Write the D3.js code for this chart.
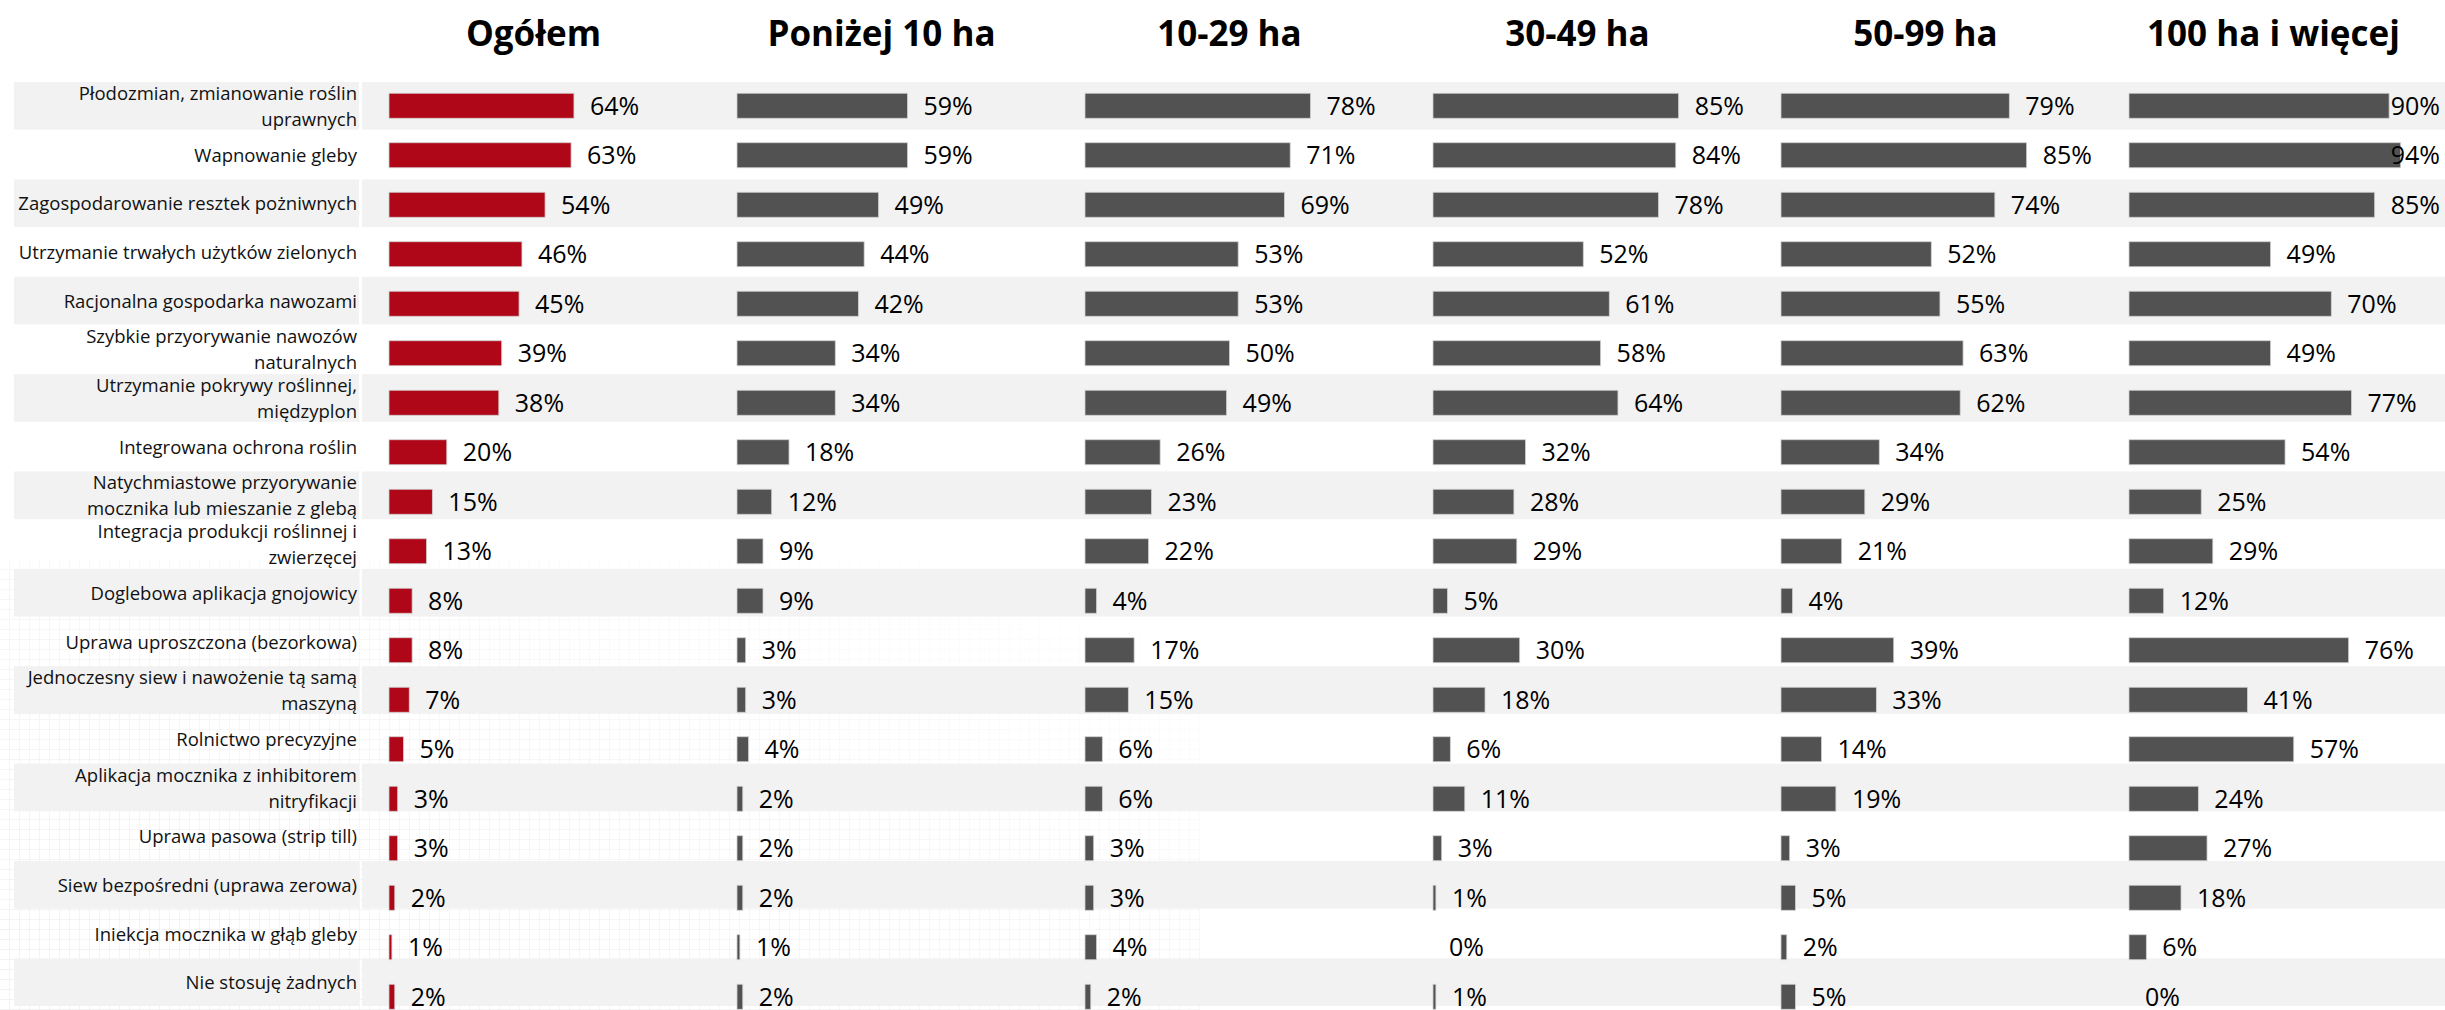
<!DOCTYPE html>
<html>
<head>
<meta charset="utf-8">
<script src="https://cdn.jsdelivr.net/npm/d3@7"></script>
<style>
  body { margin: 0; background: #fff; }
  svg { display: block; font-family: "Open Sans", sans-serif; }
</style>
</head>
<body>
<svg id="chart" width="2445" height="1010"></svg>
<script>
// row labels, line breaks as in the original table
const categories = [
  "Płodozmian, zmianowanie roślin\nuprawnych",
  "Wapnowanie gleby",
  "Zagospodarowanie resztek pożniwnych",
  "Utrzymanie trwałych użytków zielonych",
  "Racjonalna gospodarka nawozami",
  "Szybkie przyorywanie nawozów\nnaturalnych",
  "Utrzymanie pokrywy roślinnej,\nmiędzyplon",
  "Integrowana ochrona roślin",
  "Natychmiastowe przyorywanie\nmocznika lub mieszanie z glebą",
  "Integracja produkcji roślinnej i\nzwierzęcej",
  "Doglebowa aplikacja gnojowicy",
  "Uprawa uproszczona (bezorkowa)",
  "Jednoczesny siew i nawożenie tą samą\nmaszyną",
  "Rolnictwo precyzyjne",
  "Aplikacja mocznika z inhibitorem\nnitryfikacji",
  "Uprawa pasowa (strip till)",
  "Siew bezpośredni (uprawa zerowa)",
  "Iniekcja mocznika w głąb gleby",
  "Nie stosuję żadnych"
];

const groups = ["Ogółem", "Poniżej 10 ha", "10-29 ha", "30-49 ha", "50-99 ha", "100 ha i więcej"];

// percentages, one array per farm size group
const ogolem   = [64, 63, 54, 46, 45, 39, 38, 20, 15, 13, 8, 8, 7, 5, 3, 3, 2, 1, 2];
const ponizej10 = [59, 59, 49, 44, 42, 34, 34, 18, 12, 9, 9, 3, 3, 4, 2, 2, 2, 1, 2];
const ha10_29  = [78, 71, 69, 53, 53, 50, 49, 26, 23, 22, 4, 17, 15, 6, 6, 3, 3, 4, 2];
const ha30_49  = [85, 84, 78, 52, 61, 58, 64, 32, 28, 29, 5, 30, 18, 6, 11, 3, 1, 0, 1];
const ha50_99  = [79, 85, 74, 52, 55, 63, 62, 34, 29, 21, 4, 39, 33, 14, 19, 3, 5, 2, 5];
const ha100    = [90, 94, 85, 49, 70, 49, 77, 54, 25, 29, 12, 76, 41, 57, 24, 27, 18, 6, 0];

const series = [ogolem, ponizej10, ha10_29, ha30_49, ha50_99, ha100];

const W = 2445, H = 1010;
const RED = "#b00718", GREY = "#525252", BAND = "#f2f2f2";

const svg = d3.select("#chart");

// faint graph-paper texture in the lower left, like the original backdrop
const defs = svg.append("defs");
const pat = defs.append("pattern")
  .attr("id", "grid").attr("patternUnits", "userSpaceOnUse")
  .attr("width", 10).attr("height", 10);
pat.append("path").attr("d", "M10 0V10M0 10H10")
  .attr("fill", "none").attr("stroke", "#e6e6e6").attr("stroke-width", 1);
const grad = defs.append("linearGradient").attr("id", "fade")
  .attr("x1", 0).attr("y1", 1).attr("x2", 1).attr("y2", 0);
grad.append("stop").attr("offset", 0).attr("stop-color", "#fff").attr("stop-opacity", 1);
grad.append("stop").attr("offset", 0.55).attr("stop-color", "#fff").attr("stop-opacity", 0.6);
grad.append("stop").attr("offset", 1).attr("stop-color", "#fff").attr("stop-opacity", 0);
defs.append("mask").attr("id", "fadeMask")
  .append("rect").attr("x", 0).attr("y", 560).attr("width", 1200).attr("height", 450)
  .attr("fill", "url(#fade)");
svg.append("rect")
  .attr("x", 0).attr("y", 560).attr("width", 1200).attr("height", 450)
  .attr("fill", "url(#grid)").attr("mask", "url(#fadeMask)");

// table rows (label column + grey striping)
const rowY = d3.scaleBand().domain(d3.range(categories.length)).range([82, 1007]);

const bands = svg.append("g");
bands.selectAll("rect.lab")
  .data(d3.range(0, categories.length, 2))
  .join("rect")
  .attr("x", 14).attr("width", 345)
  .attr("y", i => rowY(i)).attr("height", rowY.bandwidth() - 1)
  .attr("fill", BAND);
bands.selectAll("rect.pan")
  .data(d3.range(0, categories.length, 2))
  .join("rect")
  .attr("x", 362).attr("width", W - 362)
  .attr("y", i => rowY(i)).attr("height", rowY.bandwidth() - 1)
  .attr("fill", BAND);

// category labels, right aligned
const lineH = 26;
svg.append("g")
  .selectAll("text")
  .data(categories)
  .join("text")
  .attr("text-anchor", "end")
  .attr("font-size", 18.5)
  .attr("fill", "#111")
  .each(function (d, i) {
    const lines = d.split("\n");
    const cy = rowY(i) + rowY.bandwidth() / 2;
    d3.select(this).selectAll("tspan")
      .data(lines)
      .join("tspan")
      .attr("x", 357)
      .attr("y", (l, j) => cy + (j - (lines.length - 1) / 2) * lineH)
      .attr("dy", "0.36em")
      .text(l => l);
  });

// chart geometry
const panelX = d3.scaleBand().domain(groups).range([389, 389 + 348 * groups.length]);
const x = d3.scaleLinear().domain([0, 100]).range([0, 289]);
const barY = d3.scaleBand().domain(d3.range(categories.length))
  .range([81, 81 + 49.5 * categories.length])
  .paddingInner(0.495).paddingOuter(0.2475);
const labelLimit = 311;

groups.forEach((g, k) => {
  const panel = svg.append("g").attr("transform", `translate(${panelX(g)},0)`);
  const vals = series[k];

  panel.append("text")
    .attr("x", (x.range()[0] + x.range()[1]) / 2)
    .attr("y", 46)
    .attr("text-anchor", "middle")
    .attr("font-size", 35)
    .attr("font-weight", 700)
    .attr("fill", "#000")
    .text(g);

  panel.selectAll("rect")
    .data(vals)
    .join("rect")
    .attr("x", 0)
    .attr("y", (d, i) => barY(i))
    .attr("width", d => x(d))
    .attr("height", barY.bandwidth())
    .attr("fill", k === 0 ? RED : GREY)
    .attr("stroke", d => d > 0 ? "#d0d0d0" : "none")
    .attr("stroke-width", 0.8);

  panel.selectAll("text.val")
    .data(vals)
    .join("text")
    .attr("class", "val")
    .attr("x", d => x(d) + 16)
    .attr("y", (d, i) => barY(i) + barY.bandwidth() / 2)
    .attr("dy", "0.36em")
    .attr("font-size", 25)
    .attr("fill", "#000")
    .text(d => d + "%")
    .each(function () {
      const w = this.getComputedTextLength();
      const x0 = +this.getAttribute("x");
      if (x0 + w > labelLimit) this.setAttribute("x", labelLimit - w);
    });
});
</script>
</body>
</html>
